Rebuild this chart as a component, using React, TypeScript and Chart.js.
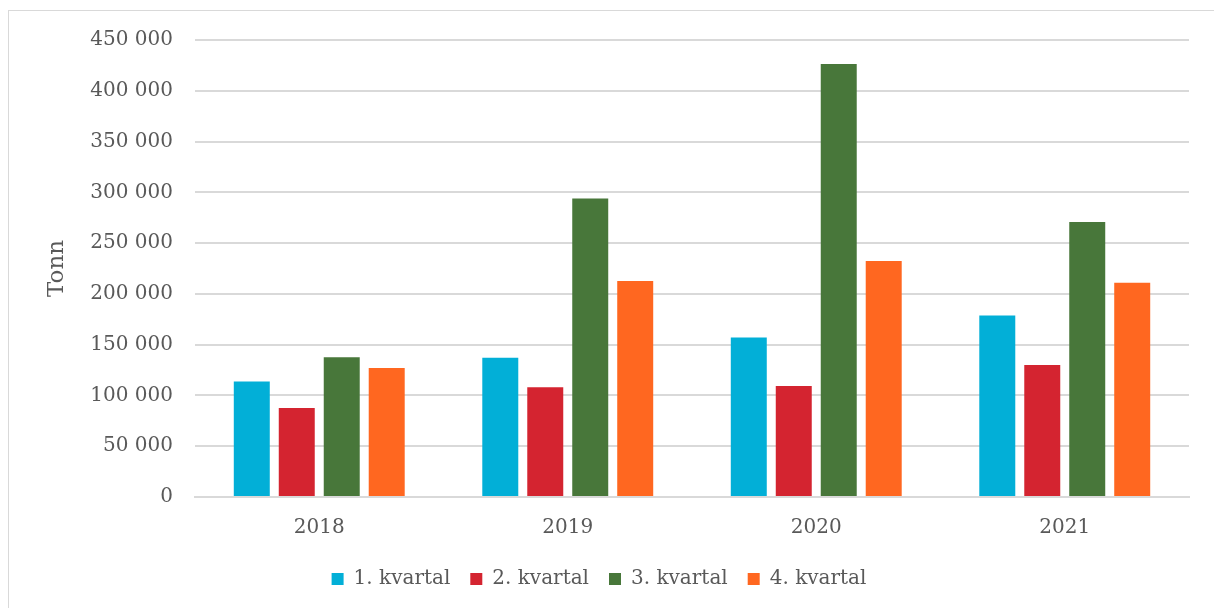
import { useEffect, useRef } from 'react';
import { Chart, registerables } from 'chart.js';

Chart.register(...registerables);

const years = ['2018', '2019', '2020', '2021'];
const seriesNames = ['1. kvartal', '2. kvartal', '3. kvartal', '4. kvartal'];
const q1 = [113700, 137000, 157000, 178700];
const q2 = [87700, 108100, 109400, 130000];
const q3 = [137700, 294000, 426400, 270700];
const q4 = [127100, 212600, 232300, 210900];
const seriesColors = ['#02AFD7', '#D42430', '#48773A', '#FF6720'];

const textColor = '#595959';
const gridColor = '#D9D9D9';
const fontFamily = '"DejaVu Serif", "Liberation Serif", serif';

const formatTick = (v: number) =>
  String(v).replace(/\B(?=(\d{3})+(?!\d))/g, ' ');

export default function App() {
  const chartRef = useRef<HTMLCanvasElement>(null);
  const chartInstanceRef = useRef<Chart | null>(null);

  useEffect(() => {
    if (!chartRef.current) return;
    const ctx = chartRef.current.getContext('2d');
    if (!ctx) return;

    if (chartInstanceRef.current) {
      chartInstanceRef.current.destroy();
    }

    const values = [q1, q2, q3, q4];

    chartInstanceRef.current = new Chart(ctx, {
      type: 'bar',
      data: {
        labels: years,
        datasets: seriesNames.map((name, i) => ({
          label: name,
          data: values[i],
          backgroundColor: seriesColors[i],
          borderWidth: 0,
          categoryPercentage: 0.724,
          barPercentage: 0.8
        }))
      },
      options: {
        responsive: true,
        maintainAspectRatio: false,
        animation: false,
        layout: {
          padding: { top: 29, right: 25, bottom: 9, left: 0 }
        },
        plugins: {
          legend: {
            position: 'bottom',
            labels: {
              color: textColor,
              boxWidth: 12,
              boxHeight: 12,
              padding: 20,
              font: { family: fontFamily, size: 20 }
            }
          },
          tooltip: { enabled: false }
        },
        scales: {
          x: {
            grid: { display: false, drawTicks: false },
            border: { color: gridColor, width: 2 },
            ticks: {
              color: textColor,
              padding: 19,
              font: { family: fontFamily, size: 20 }
            },
            afterFit: (s: any) => {
              s.height = 52;
            }
          },
          y: {
            min: 0,
            max: 450000,
            grid: { color: gridColor, lineWidth: 2, drawTicks: false },
            border: { display: false },
            ticks: {
              stepSize: 50000,
              color: textColor,
              padding: 22,
              font: { family: fontFamily, size: 20 },
              callback: (v: any) => formatTick(Number(v))
            },
            title: {
              display: true,
              text: 'Tonn',
              color: textColor,
              padding: { top: 34, bottom: 0 },
              font: { family: fontFamily, size: 23 }
            },
            afterFit: (s: any) => {
              s.width = 186;
              s.paddingTop = 0;
              s.paddingBottom = 0;
            }
          }
        }
      }
    });

    return () => {
      if (chartInstanceRef.current) {
        chartInstanceRef.current.destroy();
        chartInstanceRef.current = null;
      }
    };
  }, []);

  return (
    <div
      style={{
        position: 'absolute',
        left: 8,
        top: 10,
        width: 1206,
        height: 598,
        borderTop: '1px solid #D9D9D9',
        borderLeft: '1px solid #D9D9D9',
        boxSizing: 'border-box',
        background: '#fff'
      }}
    >
      <canvas ref={chartRef} />
    </div>
  );
}
